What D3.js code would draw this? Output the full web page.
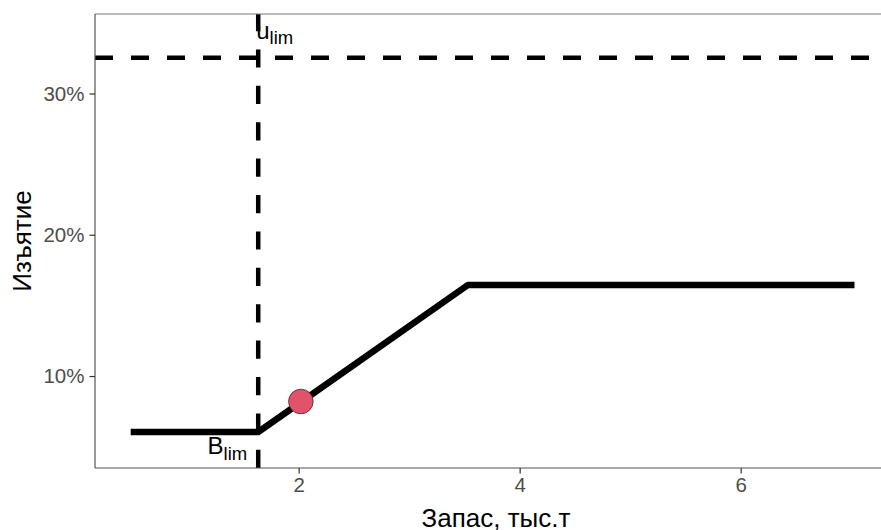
<!DOCTYPE html>
<html>
<head>
<meta charset="utf-8">
<script src="https://cdn.jsdelivr.net/npm/d3@7"></script>
<style>
  html, body { margin: 0; padding: 0; background: #fff; }
  svg { display: block; font-family: "Liberation Sans", Arial, sans-serif; }
</style>
</head>
<body>
<svg id="chart" width="881" height="530"></svg>
<script>
// Harvest control rule: stock (thousand t) vs. exploitation rate (%)
const ruleStock = [0.48, 1.634, 3.53, 7.03];
const ruleRate  = [6.04, 6.04, 16.44, 16.44];
const Blim = 1.634;
const ulim = 32.53;
const currentStock = [2.02];
const currentRate  = [8.2];
const xTicks = [2, 4, 6];
const yTicks = [10, 20, 30];
const xTitle = "Запас, тыс.т";
const yTitle = "Изъятие";

const svg = d3.select("#chart");
const pLeft = 95, pRight = 881, pTop = 14, pBottom = 468;

const x = d3.scaleLinear().domain([0.157, 7.27]).range([pLeft, pRight]);
const y = d3.scaleLinear().domain([3.49, 35.63]).range([pBottom, pTop]);

svg.append("defs").append("clipPath").attr("id", "panel")
  .append("rect").attr("x", pLeft).attr("y", pTop)
  .attr("width", pRight - pLeft).attr("height", pBottom - pTop);

const panel = svg.append("g").attr("clip-path", "url(#panel)");

// reference lines
panel.append("line")
  .attr("x1", x(Blim)).attr("x2", x(Blim))
  .attr("y1", pBottom).attr("y2", pTop)
  .attr("stroke", "#000").attr("stroke-width", 4.5)
  .attr("stroke-dasharray", "18.2,18.2");

panel.append("line")
  .attr("x1", pLeft).attr("x2", pRight + 20)
  .attr("y1", y(ulim)).attr("y2", y(ulim))
  .attr("stroke", "#000").attr("stroke-width", 4.5)
  .attr("stroke-dasharray", "18,18");

// rule line
const rule = ruleStock.map((b, i) => [b, ruleRate[i]]);
panel.append("path")
  .datum(rule)
  .attr("d", d3.line().x(d => x(d[0])).y(d => y(d[1])))
  .attr("fill", "none").attr("stroke", "#000")
  .attr("stroke-width", 6.5).attr("stroke-linejoin", "round");

// current state
panel.selectAll("circle.cur")
  .data(currentStock.map((b, i) => [b, currentRate[i]]))
  .join("circle")
  .attr("class", "cur")
  .attr("cx", d => x(d[0])).attr("cy", d => y(d[1]))
  .attr("r", 12.3)
  .attr("fill", "#DF536B").attr("stroke", "#5a1a25").attr("stroke-width", 0.8);

// labels
const ul = svg.append("text")
  .attr("x", x(Blim) - 2).attr("y", y(ulim) - 18.5)
  .attr("font-size", 24).attr("fill", "#000");
ul.append("tspan").text("u");
ul.append("tspan").attr("dy", 5).attr("font-size", 18.5).text("lim");

const bl = svg.append("text")
  .attr("x", x(Blim) - 11).attr("y", y(ruleRate[0]) + 22)
  .attr("text-anchor", "end")
  .attr("font-size", 24).attr("fill", "#000");
bl.append("tspan").text("B");
bl.append("tspan").attr("dy", 6).attr("font-size", 18.5).text("lim");

// panel frame (top edge) and axes
svg.append("line")
  .attr("x1", pLeft).attr("x2", pRight).attr("y1", pTop).attr("y2", pTop)
  .attr("stroke", "#7a7a7a").attr("stroke-width", 1.2);

const xAxis = svg.append("g").attr("transform", `translate(0,${pBottom})`)
  .call(d3.axisBottom(x).tickValues(xTicks).tickSize(5.5).tickPadding(4).tickFormat(d3.format("d")));
const yAxis = svg.append("g").attr("transform", `translate(${pLeft},0)`)
  .call(d3.axisLeft(y).tickValues(yTicks).tickSize(5.5).tickPadding(5).tickFormat(d => d + "%"));

[xAxis, yAxis].forEach(g => {
  g.select(".domain").attr("stroke", "#555").attr("stroke-width", 1.2);
  g.selectAll(".tick line").attr("stroke", "#333").attr("stroke-width", 1.2);
  g.selectAll(".tick text").attr("fill", "#4D4D4D").attr("font-size", 20.5)
    .attr("font-family", "Liberation Sans, Arial, sans-serif");
});
xAxis.select(".domain").attr("d", `M${pLeft},0H${pRight}`);
yAxis.select(".domain").attr("d", `M0,${pBottom}V${pTop}`);

// axis titles
svg.append("text")
  .attr("x", 496).attr("y", 527)
  .attr("text-anchor", "middle").attr("font-size", 26).attr("fill", "#000")
  .text(xTitle);

svg.append("text")
  .attr("transform", `translate(31,241) rotate(-90)`)
  .attr("text-anchor", "middle").attr("font-size", 26).attr("fill", "#000")
  .text(yTitle);
</script>
</body>
</html>
